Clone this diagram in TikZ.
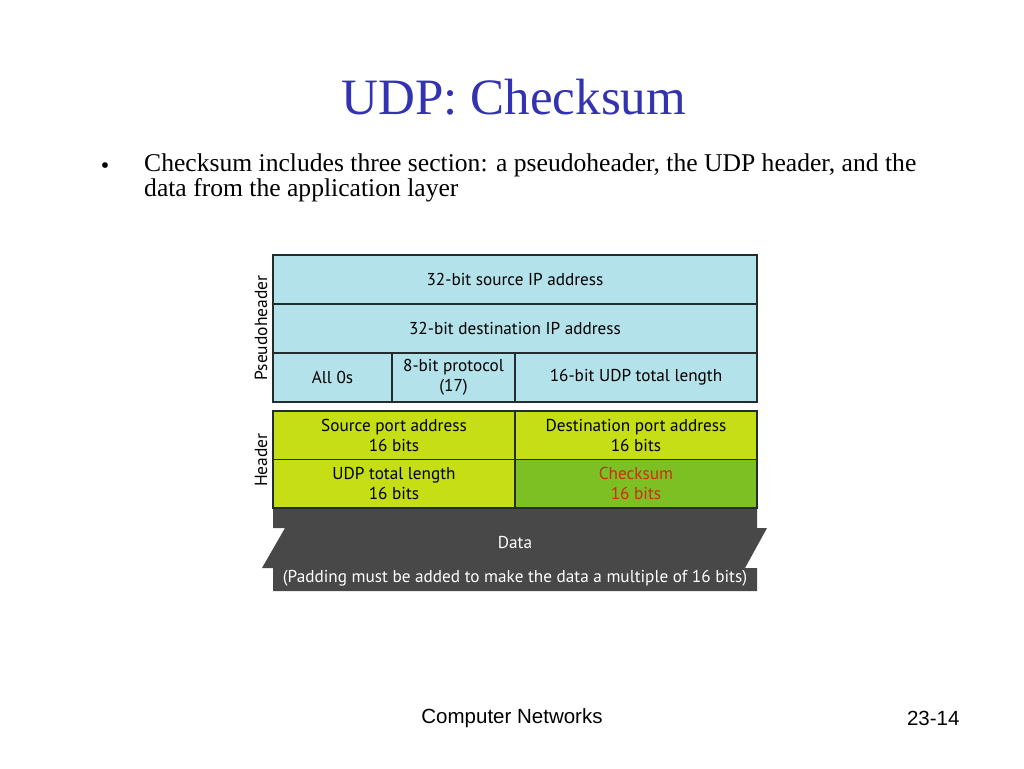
\documentclass[tikz,border=0pt]{standalone}
\usepackage{fontspec}
\setmainfont{Liberation Serif}
\newfontfamily\figfont{PT Sans}
\newfontfamily\footfont{Liberation Sans}
\usetikzlibrary{positioning,calc}
\definecolor{TitleBlue}{RGB}{51,51,178}
\definecolor{PseudoBlue}{RGB}{180,226,234}
\definecolor{HdrLime}{RGB}{198,222,22}
\definecolor{SumGreen}{RGB}{124,192,36}
\definecolor{SumRed}{RGB}{205,45,20}
\definecolor{DataGray}{RGB}{72,72,72}
\definecolor{EdgeDark}{RGB}{35,45,45}
\tikzset{
  cell/.style={draw=EdgeDark,line width=1.3pt,inner sep=0pt,outer sep=0pt,
    minimum height=49pt,align=center,font=\figfont\fontsize{17.2}{20}\selectfont},
  pcell/.style={cell,fill=PseudoBlue},
  hcell/.style={cell,fill=HdrLime,minimum height=48.5pt,minimum width=242pt},
  side/.style={rotate=90,font=\figfont\fontsize{17.5}{20}\selectfont},
  datatext/.style={text=white,font=\figfont\fontsize{17.2}{20}\selectfont},
}

\begin{document}
\begin{tikzpicture}[x=1pt,y=-1pt]
\useasboundingbox[fill=white] (0,0) rectangle (1024,768);
\node[text=TitleBlue,font=\fontsize{51}{60}\selectfont] (title) at (514,97) {UDP: Checksum};
\node[font=\fontsize{24}{24}\selectfont] (bul) at (105,168) {\textbullet};
\node[anchor=north west,inner sep=0pt,align=left,
  font=\fontsize{25.6}{24.5}\selectfont] (point) at (144,154)
  {Checksum includes three section: a pseudoheader, the UDP header, and the\\data from the application layer};
\fill[DataGray] (273,508) -- (757,508) -- (757,528) -- (767,528) -- (745,568) -- (757,568)
  -- (757,591) -- (273,591) -- (273,568) -- (262,568) -- (285,528) -- (273,528) -- cycle;
\node[pcell,minimum width=484pt] (src) at (515,279.5) {32-bit source IP address};
\node[pcell,minimum width=484pt,below=0pt of src] (dst) {32-bit destination IP address};
\node[pcell,minimum width=119pt,below right=0pt and 0pt of dst.south west] (zeros) {All 0s};
\node[pcell,minimum width=123pt,right=0pt of zeros] (proto) {8-bit protocol\\(17)};
\node[pcell,minimum width=242pt,right=0pt of proto] (plen) {16-bit UDP total length};
\node[hcell,anchor=north west] (sport) at (273,411) {Source port address\\16 bits};
\node[hcell,right=0pt of sport] (dport) {Destination port address\\16 bits};
\node[hcell,below=0pt of sport] (ulen) {UDP total length\\16 bits};
\node[hcell,below=0pt of dport,fill=SumGreen,text=SumRed] (csum) {Checksum\\16 bits};
\node[datatext] (datalbl) at (515,543) {Data};
\node[datatext] (padlbl) at (515,578) {(Padding must be added to make the data a multiple of 16 bits)};
\node[side] (phlbl) at (261,328) {Pseudoheader};
\node[side] (hlbl) at (261,460) {Header};
\node[font=\footfont\fontsize{20.5}{24}\selectfont] (course) at (512,718) {Computer Networks};
\node[font=\footfont\fontsize{20.5}{24}\selectfont,anchor=east] (page) at (963,718) {23-14};
\end{tikzpicture}
\end{document}
